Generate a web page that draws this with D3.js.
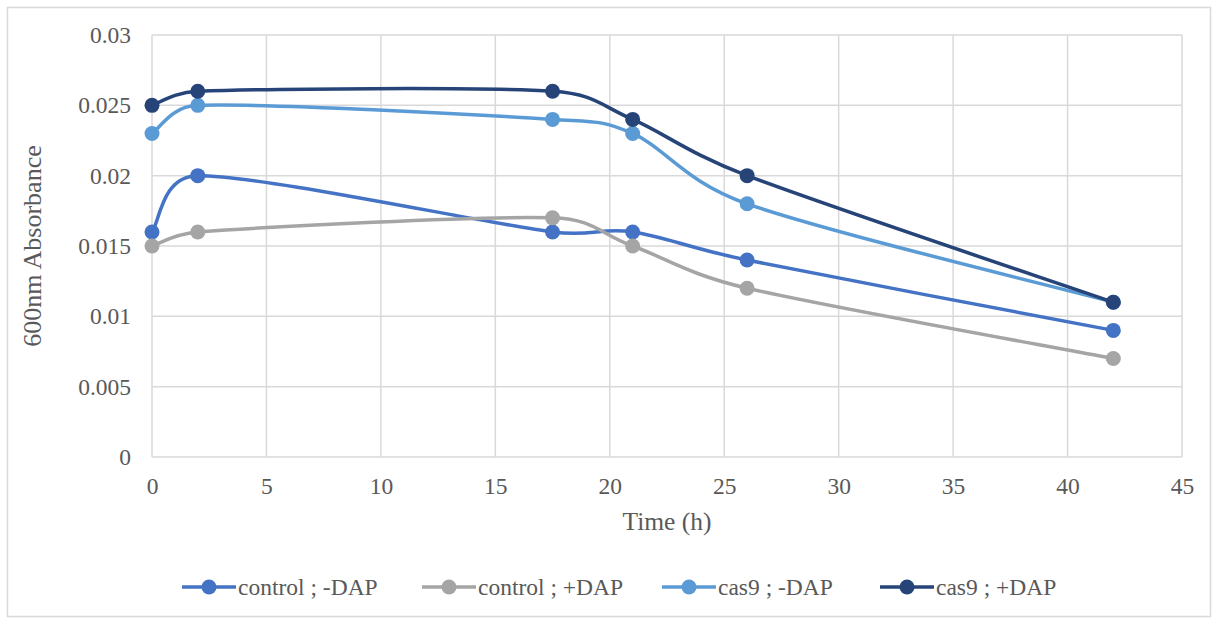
<!DOCTYPE html>
<html>
<head>
<meta charset="utf-8">
<script src="https://cdn.jsdelivr.net/npm/d3@7"></script>
<style>
  html, body { margin: 0; padding: 0; background: #ffffff; }
  svg { display: block; }
  text { font-family: "Liberation Serif", "Times New Roman", serif; fill: #595959; }
</style>
</head>
<body>
<svg id="chart" width="1218" height="624"></svg>
<script>
// Sampling times (h)
const times = [0, 2, 17.5, 21, 26, 42];

// Series names
const seriesNames = ["control ; -DAP", "control ; +DAP", "cas9 ; -DAP", "cas9 ; +DAP"];

// OD600 readings per series
const controlMinusDAP = [0.016, 0.020, 0.016, 0.016, 0.014, 0.009];
const controlPlusDAP  = [0.015, 0.016, 0.017, 0.015, 0.012, 0.007];
const cas9MinusDAP    = [0.023, 0.025, 0.024, 0.023, 0.018, 0.011];
const cas9PlusDAP     = [0.025, 0.026, 0.026, 0.024, 0.020, 0.011];

// Axis ticks
const xTicks = [0, 5, 10, 15, 20, 25, 30, 35, 40, 45];
const yTicks = [0, 0.005, 0.01, 0.015, 0.02, 0.025, 0.03];
const yTickLabels = ["0", "0.005", "0.01", "0.015", "0.02", "0.025", "0.03"];

const seriesValues = [controlMinusDAP, controlPlusDAP, cas9MinusDAP, cas9PlusDAP];
const colors = ["#4472C4", "#A5A5A5", "#5B9BD5", "#264478"];

const svg = d3.select("#chart");
const W = 1218, H = 624;
const tickFont = 23.5;

// outer chart border
svg.append("rect")
  .attr("x", 7.5).attr("y", 7.5)
  .attr("width", W - 15).attr("height", H - 15)
  .attr("fill", "#ffffff")
  .attr("stroke", "#d9d9d9").attr("stroke-width", 1.5);

const x = d3.scaleLinear().domain([0, 45]).range([152, 1182]);
const y = d3.scaleLinear().domain([0, 0.03]).range([457, 35]);

// gridlines
const grid = svg.append("g");
grid.selectAll("line.h").data(yTicks).join("line")
  .attr("x1", x(0)).attr("x2", x(45))
  .attr("y1", d => y(d)).attr("y2", d => y(d))
  .attr("stroke", "#d9d9d9").attr("stroke-width", 1.5);
grid.selectAll("line.v").data(xTicks).join("line")
  .attr("x1", d => x(d)).attr("x2", d => x(d))
  .attr("y1", y(0)).attr("y2", y(0.03))
  .attr("stroke", "#d9d9d9").attr("stroke-width", 1.5);

// axes (labels only; lines come from the grid)
const yAxis = d3.axisLeft(y).tickValues(yTicks)
  .tickFormat((d, i) => yTickLabels[i]).tickSize(0).tickPadding(21);
const gy = svg.append("g").attr("transform", `translate(${x(0)},0)`).call(yAxis);
gy.select(".domain").remove();
gy.selectAll("text").attr("font-size", tickFont).attr("font-family", null).attr("fill", "#595959");

const xAxis = d3.axisBottom(x).tickValues(xTicks).tickFormat(d3.format("d"))
  .tickSize(0).tickPadding(20);
const gx = svg.append("g").attr("transform", `translate(0,${y(0)})`).call(xAxis);
gx.select(".domain").remove();
gx.selectAll("text").attr("font-size", tickFont).attr("font-family", null).attr("fill", "#595959");

// axis titles
svg.append("text")
  .attr("x", (x(0) + x(45)) / 2).attr("y", 529.5)
  .attr("text-anchor", "middle").attr("font-size", 25.5)
  .text("Time (h)");
svg.append("text")
  .attr("transform", `translate(41,${(y(0) + y(0.03)) / 2}) rotate(-90)`)
  .attr("text-anchor", "middle").attr("font-size", 26)
  .text("600nm Absorbance");

// Smoothed Bezier path through pixel points, with control arms
// limited to half of each segment length.
function smoothPath(pts) {
  const p = d3.path();
  const dist = (a, b) => Math.hypot(b[0] - a[0], b[1] - a[1]);
  const t = 1 / 6;
  p.moveTo(pts[0][0], pts[0][1]);
  for (let i = 0; i < pts.length - 1; i++) {
    const p0 = pts[Math.max(i - 1, 0)];
    const p1 = pts[i];
    const p2 = pts[i + 1];
    const p3 = pts[Math.min(i + 2, pts.length - 1)];
    const d12 = dist(p1, p2);
    const d02 = dist(p0, p2);
    const d13 = dist(p1, p3);
    let f0 = t, f3 = t;
    if (d02 * t > d12 / 2) f0 = d12 / d02 / 2;
    if (d13 * t > d12 / 2) f3 = d12 / d13 / 2;
    const c1 = [p1[0] + (p2[0] - p0[0]) * f0, p1[1] + (p2[1] - p0[1]) * f0];
    const c2 = [p2[0] - (p3[0] - p1[0]) * f3, p2[1] - (p3[1] - p1[1]) * f3];
    p.bezierCurveTo(c1[0], c1[1], c2[0], c2[1], p2[0], p2[1]);
  }
  return p.toString();
}

const plot = svg.append("g");
seriesValues.forEach((vals, si) => {
  const pts = vals.map((v, i) => [x(times[i]), y(v)]);
  plot.append("path")
    .attr("d", smoothPath(pts))
    .attr("fill", "none")
    .attr("stroke", colors[si])
    .attr("stroke-width", 3.5)
    .attr("stroke-linecap", "round");
  plot.selectAll(null).data(vals).join("circle")
    .attr("cx", (d, i) => x(times[i]))
    .attr("cy", d => y(d))
    .attr("r", 7.5)
    .attr("fill", colors[si]);
});

// legend
const legendX = [182, 422, 662, 880];
const legendY = 587;
const lg = svg.append("g");
seriesNames.forEach((name, i) => {
  const g = lg.append("g").attr("transform", `translate(${legendX[i]},${legendY})`);
  g.append("line").attr("x1", 0).attr("x2", 54).attr("y1", 0).attr("y2", 0)
    .attr("stroke", colors[i]).attr("stroke-width", 3.5);
  g.append("circle").attr("cx", 27).attr("cy", 0).attr("r", 7.5).attr("fill", colors[i]);
  g.append("text").attr("x", 56).attr("y", 8).attr("font-size", tickFont).text(name);
});
</script>
</body>
</html>
